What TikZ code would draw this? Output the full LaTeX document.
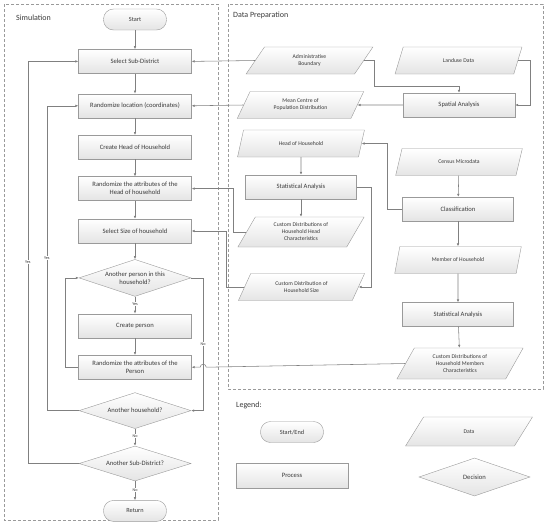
\documentclass[tikz,border=0pt]{standalone}
\usepackage{fontspec}
\setmainfont{Carlito}
\usepackage{tikz}
\usetikzlibrary{arrows.meta,positioning,shapes.geometric}
\usepackage{xcolor}
\definecolor{LineGray}{HTML}{808080}
\definecolor{BorderGray}{HTML}{9A9A9A}
\definecolor{FillGray}{HTML}{E4E4E4}
\definecolor{TextDark}{HTML}{3A3A3A}
\tikzset{
  termnode/.style={draw=BorderGray,top color=white,bottom color=FillGray,rounded corners=10pt,minimum width=63pt,minimum height=21pt,inner sep=0pt,align=center,font=\fontsize{6.3}{7}\selectfont,text=TextDark},
  procnode/.style={draw=BorderGray,top color=white,bottom color=FillGray,minimum width=113pt,minimum height=24pt,inner sep=1pt,align=center,font=\fontsize{6.6}{8}\selectfont,text=TextDark},
  datanode/.style={draw=BorderGray,top color=white,bottom color=FillGray,trapezium,trapezium left angle=60,trapezium right angle=120,trapezium stretches=true,minimum width=127pt,minimum height=27pt,inner sep=0pt,align=center,font=\fontsize{5.7}{7}\selectfont,text=TextDark},
  decnode/.style={draw=BorderGray,top color=white,bottom color=FillGray,diamond,aspect=3,inner sep=0pt,minimum width=112pt,minimum height=37pt,align=center,font=\fontsize{6.6}{8}\selectfont,text=TextDark},
  flow/.style={-{Latex[length=3pt,width=2.6pt]},draw=LineGray,line width=0.55pt},
  framebox/.style={draw=BorderGray,dashed,dash pattern=on 3pt off 2pt,line width=0.55pt},
  looplabel/.style={fill=white,inner sep=0.6pt,font=\fontsize{4.2}{5}\selectfont,text=TextDark},
  boxtitle/.style={anchor=west,inner sep=0pt,font=\fontsize{8}{9}\selectfont,text=TextDark}
}
\begin{document}
\begin{tikzpicture}[x=1pt,y=-1pt,node distance=17pt]
\useasboundingbox (0,0) rectangle (550,523);
% frames
\draw[framebox] (4,4) rectangle (218,520);
\draw[framebox] (228,4) rectangle (543,389);
\node[boxtitle] (simtitle) at (16,18) {Simulation};
\node[boxtitle] (preptitle) at (233,15) {Data Preparation};

% simulation column
\node[termnode] (start) at (135,19.5) {Start};
\node[procnode,below=19pt of start] (subdist) {Select Sub-District};
\node[procnode,below=20pt of subdist] (randloc) {Randomize location (coordinates)};
\node[procnode,below=of randloc] (headhh) {Create Head of Household};
\node[procnode,below=of headhh] (randhead) {Randomize the attributes of the\\Head of household};
\node[procnode,below=18pt of randhead] (selsize) {Select Size of household};
\node[decnode,below=16pt of selsize] (anotherp) {Another person in this\\household?};
\node[procnode,below=of anotherp] (createp) {Create person};
\node[procnode,below=of createp] (randp) {Randomize the attributes of the\\Person};
\node[decnode,below=13pt of randp,minimum height=36pt] (anotherhh) {Another household?};
\node[decnode,below=of anotherhh,minimum height=35pt] (anothersd) {Another Sub-District?};
\node[termnode,below=19pt of anothersd] (return) {Return};

% data preparation, left column
\node[datanode] (admin) at (309.5,60.5) {Administrative\\Boundary};
\node[datanode] (meanc) at (300.5,105) {Mean Centre of\\Population Distribution};
\node[datanode] (headdata) at (301,143.5) {Head of Household};
\node[procnode,minimum width=111pt] (statl) at (301,187) {Statistical Analysis};
\node[datanode,minimum height=30pt] (cdhead) at (301,232) {Custom Distributions of\\Household Head\\Characteristics};
\node[datanode] (cdsize) at (301.5,287) {Custom Distribution of\\Household Size};

% data preparation, right column
\node[datanode] (landuse) at (458.5,60.5) {Landuse Data};
\node[procnode,minimum width=112pt] (spatial) at (459,105) {Spatial Analysis};
\node[datanode] (census) at (459,162) {Census Microdata};
\node[procnode,minimum width=111pt] (classif) at (458,209) {Classification};
\node[datanode] (member) at (458,260) {Member of Household};
\node[procnode,minimum width=111pt] (statr) at (458,314.5) {Statistical Analysis};
\node[datanode,minimum height=31pt] (cdmem) at (460,363.5) {Custom Distributions of\\Household Members\\Characteristics};

% legend
\node[boxtitle] (legtitle) at (236,405) {Legend:};
\node[termnode] (legterm) at (292,432) {Start/End};
\node[datanode,minimum height=29pt] (legdata) at (469,431.5) {Data};
\node[procnode,minimum width=112pt,minimum height=25pt] (legproc) at (292,475.5) {Process};
\node[decnode,minimum width=111pt,minimum height=38pt] (legdec) at (474.5,477) {Decision};

% main flow
\draw[flow] (start) -- (subdist);
\draw[flow] (subdist) -- (randloc);
\draw[flow] (randloc) -- (headhh);
\draw[flow] (headhh) -- (randhead);
\draw[flow] (randhead) -- (selsize);
\draw[flow] (selsize) -- (anotherp);
\draw[flow] (anotherp) -- node[looplabel,pos=0.45]{Yes} (createp);
\draw[flow] (createp) -- (randp);
\draw[flow] (anotherhh) -- node[looplabel,pos=0.45]{No} (anothersd);
\draw[flow] (anothersd) -- node[looplabel,pos=0.45]{No} (return);

% loops
\draw[flow] (randp.west) -- ++(-13,0) |- (anotherp.west);
\draw[flow] (anotherp.east) -- ++(12,0) coordinate (nocorner) |- node[looplabel,pos=0.25]{No} (anotherhh.east);
\draw[flow] (anotherhh.west) -- ++(-32,0) |- node[looplabel,pos=0.25]{Yes} (randloc.west);
\draw[flow] (anothersd.west) -- ++(-51,0) |- node[looplabel,pos=0.25]{Yes} (subdist.west);

% data into simulation
\draw[flow] (admin.west) -- (subdist.east);
\draw[flow] (meanc.west) -- (randloc.east);
\draw[flow] (cdhead.west) -- ++(-13,0) |- (randhead.east);
\draw[flow] (cdsize.west) -- ++(-18,0) |- (selsize.east);
\draw[flow] (cdmem.west) -- ([xshift=3pt]nocorner |- randp.east) arc[start angle=0,end angle=180,radius=3pt] -- (randp.east);

% data preparation flow
\draw[flow] (admin.east) -- ++(10,0) |- ([yshift=7pt]spatial.north) -- (spatial.north);
\draw[flow] (landuse.east) -- ++(12,0) |- (spatial.east);
\draw[flow] (spatial.west) -- (meanc.east);
\draw[flow] (headdata) -- (statl);
\draw[flow] (statl) -- (cdhead);
\draw[flow] (statl.east) -- ++(15,0) |- (cdsize.east);
\draw[flow] (census) -- (classif);
\draw[flow] (classif.west) -- ++(-15,0) |- (headdata.east);
\draw[flow] (classif) -- (member);
\draw[flow] (member) -- (statr);
\draw[flow] (statr) -- (cdmem);
\end{tikzpicture}
\end{document}
